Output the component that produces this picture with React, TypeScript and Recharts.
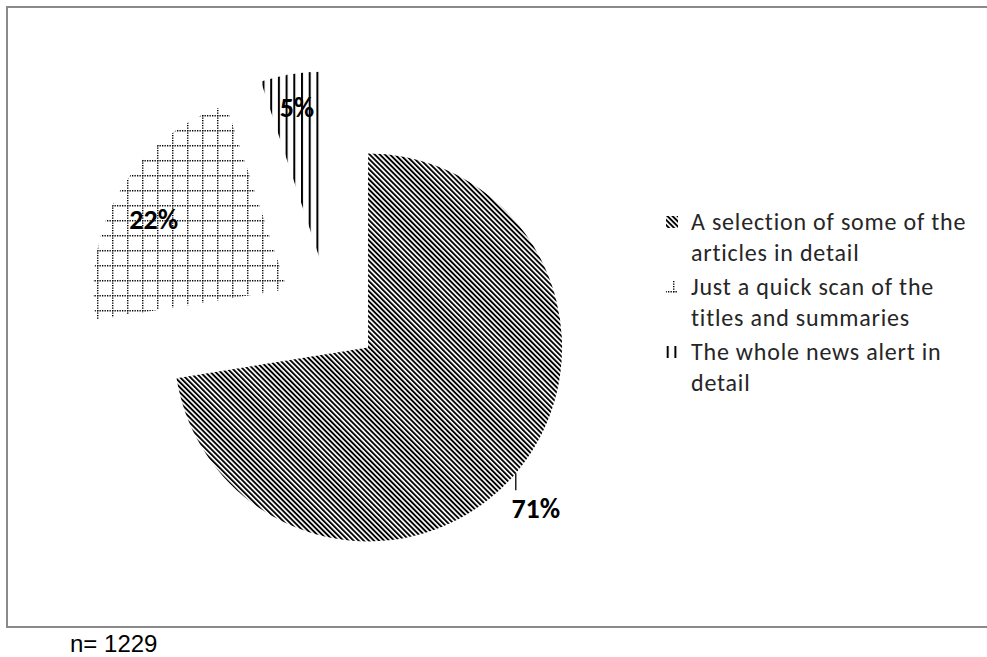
import { PieChart, Pie, Cell, Legend } from 'recharts'

const categories = [
  'A selection of some of the articles in detail',
  'Just a quick scan of the titles and summaries',
  'The whole news alert in detail',
]
const shares = [71, 22, 5]
const shareLabels = ['71%', '22%', '5%']
const sampleSize = 1229

const patternIds = ['pDiag', 'pGrid', 'pVert']

const data = categories.map((name, i) => ({ name, value: shares[i] }))

const CX = 330
const CY = 315
const R = 194
const EXPLODE = 50
// inside labels: fraction of radius + small angle nudge (deg)
const insideLabelR = [0, 0.77, 0.81]
const insideLabelTurn = [0, 4.6, 0]

const total = shares.reduce((a, b) => a + b, 0)
let acc = 0
const offsets = shares.map((v) => {
  const mid = ((90 - ((acc + v / 2) / total) * 360) * Math.PI) / 180
  acc += v
  return { dx: EXPLODE * Math.cos(mid), dy: -EXPLODE * Math.sin(mid) }
})

const labelFont = 'Carlito, Lato, sans-serif'

function makeLabel(k: number) {
  return (props: any) => {
    const { cx, cy, midAngle, outerRadius, index } = props
    if (index !== k) return null
    if (k === 0) {
      const rad = (midAngle * Math.PI) / 180
      const x = cx + outerRadius * Math.cos(rad)
      const y = cy - outerRadius * Math.sin(rad)
      return (
        <g>
          <line x1={x} y1={y} x2={x} y2={y + 17} stroke="#000" strokeWidth={1.3} />
          <text x={x + 20} y={y + 38} textAnchor="middle" dominantBaseline="middle"
            fontFamily={labelFont} fontWeight="bold" fontSize={28} fill="#000">
            {shareLabels[k]}
          </text>
        </g>
      )
    }
    const rad = ((midAngle + insideLabelTurn[k]) * Math.PI) / 180
    const rr = outerRadius * insideLabelR[k]
    return (
      <text x={cx + rr * Math.cos(rad)} y={cy - rr * Math.sin(rad)} textAnchor="middle"
        dominantBaseline="middle" fontFamily={labelFont} fontWeight="bold" fontSize={28} fill="#000">
        {shareLabels[k]}
      </text>
    )
  }
}

function LegendBox() {
  return (
    <div style={{ fontFamily: labelFont, fontSize: 24, letterSpacing: 0.8, color: '#262626', width: 310 }}>
      {categories.map((c, i) => (
        <div key={c} style={{ display: 'flex', alignItems: 'flex-start', marginBottom: 3 }}>
          <svg width={12} height={12} style={{ marginTop: 10, marginRight: 13, flex: 'none' }}>
            <rect width={12} height={12} fill={`url(#${patternIds[i]})`} />
          </svg>
          <div style={{ lineHeight: '31px', width: 292 }}>{c}</div>
        </div>
      ))}
    </div>
  )
}

export default function App() {
  return (
    <div style={{ position: 'absolute', left: 0, top: 0, width: 987, height: 657, background: '#fff', overflow: 'hidden' }}>
      <div style={{ position: 'absolute', left: 6, top: 6, width: 1000, height: 622, boxSizing: 'border-box', border: '2px solid #8a8a8a' }} />
      <div style={{ position: 'absolute', left: 0, top: 0 }}>
        <PieChart width={987} height={630} margin={{ top: 0, right: 0, bottom: 0, left: 0 }}>
          <defs>
            <pattern id="pDiag" width={3.6} height={3.6} patternUnits="userSpaceOnUse" patternTransform="rotate(-45)">
              <rect width={3.6} height={3.6} fill="#fff" />
              <rect width={1.9} height={3.6} fill="#000" />
            </pattern>
            <pattern id="pGrid" x={7} y={10} width={15} height={15} patternUnits="userSpaceOnUse">
              <line x1={0.7} y1={0} x2={0.7} y2={15} stroke="#000" strokeWidth={1.5} strokeDasharray="1.3 1.2" />
              <line x1={0} y1={0.7} x2={15} y2={0.7} stroke="#000" strokeWidth={1.5} strokeDasharray="1.3 1.2" />
            </pattern>
            <pattern id="pVert" x={301} width={7.7} height={10} patternUnits="userSpaceOnUse">
              <rect width={2} height={10} fill="#000" />
            </pattern>
          </defs>
          {shares.map((_, k) => (
            <Pie
              key={k}
              data={data}
              dataKey="value"
              cx={CX + offsets[k].dx}
              cy={CY + offsets[k].dy}
              outerRadius={R}
              startAngle={90}
              endAngle={-270}
              stroke="none"
              label={makeLabel(k)}
              labelLine={false}
              isAnimationActive={false}
            >
              {data.map((d, i) => (
                <Cell key={d.name} fill={i === k ? `url(#${patternIds[i]})` : 'transparent'} />
              ))}
            </Pie>
          ))}
          <Legend
            layout="vertical"
            align="right"
            verticalAlign="top"
            content={() => <LegendBox />}
            wrapperStyle={{ left: 666, top: 206, width: 320, right: 'auto' }}
          />
        </PieChart>
      </div>
      <div style={{ position: 'absolute', left: 70, top: 632, fontFamily: '"Liberation Sans", Arial, sans-serif', fontSize: 24, lineHeight: '24px', color: '#000' }}>
        n= {sampleSize}
      </div>
    </div>
  )
}
